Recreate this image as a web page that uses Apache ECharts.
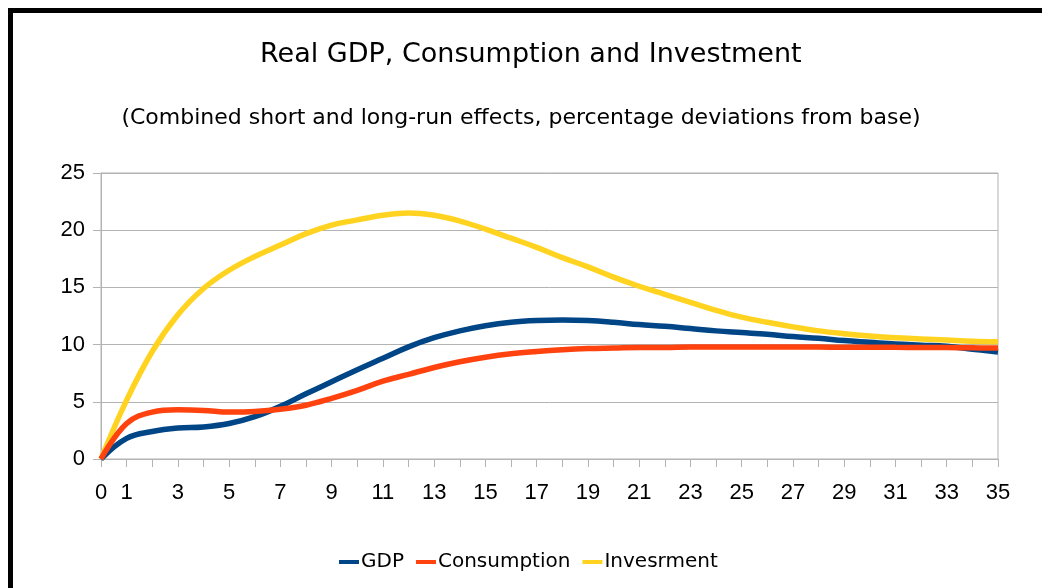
<!DOCTYPE html>
<html>
<head>
<meta charset="utf-8">
<script src="https://cdn.jsdelivr.net/npm/echarts@6/dist/echarts.min.js"></script>
<style>
html,body{margin:0;padding:0;background:#fff;}
#chart{width:1042px;height:588px;}
</style>
</head>
<body>
<div id="chart"></div>
<script>
var periods = [];
for (var i = 0; i <= 35; i++) periods.push(i);
var gdp = [0, 1.8, 2.4, 2.7, 2.8, 3.1, 3.7, 4.6, 5.7, 6.75, 7.8, 8.8, 9.8, 10.6, 11.2, 11.65, 11.95, 12.1, 12.15, 12.1, 11.95, 11.75, 11.6, 11.4, 11.2, 11.05, 10.9, 10.7, 10.55, 10.35, 10.2, 10.05, 9.95, 9.85, 9.6, 9.35];
var consumption = [0, 3.1, 4.1, 4.3, 4.25, 4.1, 4.15, 4.35, 4.7, 5.3, 6.0, 6.8, 7.4, 8.0, 8.5, 8.9, 9.2, 9.4, 9.55, 9.65, 9.7, 9.75, 9.75, 9.78, 9.78, 9.78, 9.78, 9.78, 9.78, 9.77, 9.77, 9.76, 9.75, 9.74, 9.72, 9.7];
var investment = [0, 5.15, 9.4, 12.6, 14.9, 16.5, 17.7, 18.7, 19.7, 20.45, 20.9, 21.3, 21.5, 21.3, 20.8, 20.1, 19.3, 18.5, 17.6, 16.8, 15.9, 15.1, 14.4, 13.7, 13.0, 12.4, 11.95, 11.55, 11.2, 10.95, 10.75, 10.6, 10.5, 10.4, 10.3, 10.25];
var yTicks = [0, 5, 10, 15, 20, 25];
var seriesNames = ['GDP', 'Consumption', 'Invesrment'];
var colors = ['#004586', '#ff420e', '#ffd320'];

function pairs(arr) { return arr.map(function (v, i) { return [periods[i], v]; }); }

var font = '"Liberation Sans", Arial, sans-serif';
var wide = '"DejaVu Sans", sans-serif';
var chart = echarts.init(document.getElementById('chart'), null, {renderer: 'canvas'});
chart.setOption({
  animation: false,
  backgroundColor: '#ffffff',
  title: [
    {text: 'Real GDP, Consumption and Investment', left: 255, top: 36,
     textStyle: {fontFamily: wide, fontSize: 27, fontWeight: 'normal', color: '#000'}},
    {text: '(Combined short and long-run effects, percentage deviations from base)', left: 'center', top: 102,
     textStyle: {fontFamily: wide, fontSize: 22, fontWeight: 'normal', color: '#000'}}
  ],
  graphic: [
    {type: 'rect', shape: {x: 8, y: 8, width: 1034, height: 5}, style: {fill: '#000'}},
    {type: 'rect', shape: {x: 8, y: 8, width: 5, height: 580}, style: {fill: '#000'}}
  ],
  legend: {
    bottom: 11, left: 334,
    data: seriesNames,
    icon: 'rect', itemWidth: 20, itemHeight: 4, itemGap: 12,
    textStyle: {fontFamily: wide, fontSize: 20, color: '#000', padding: [0, 0, 0, -3]}
  },
  grid: {left: 101, right: 44, top: 173, bottom: 129, show: true, borderColor: '#b3b3b3', borderWidth: 1},
  xAxis: [{
    type: 'value', min: 0, max: 35, interval: 1,
    axisLine: {show: true, lineStyle: {color: '#b3b3b3', width: 1}},
    axisTick: {show: true, length: 8, lineStyle: {color: '#b3b3b3'}},
    splitLine: {show: false},
    axisLabel: {
      fontFamily: font, fontSize: 22, color: '#000', margin: 23,
      formatter: function (v) { return (v === 0 || v % 2 === 1) ? String(v) : ''; }
    }
  }],
  yAxis: {
    type: 'value', min: 0, max: 25, interval: 5,
    axisLine: {show: true, lineStyle: {color: '#b3b3b3'}},
    axisTick: {show: true, length: 8, lineStyle: {color: '#b3b3b3'}},
    splitLine: {show: true, lineStyle: {color: '#b3b3b3', width: 1}},
    axisLabel: {fontFamily: font, fontSize: 22, color: '#000', margin: 16,
      formatter: function (v) { return yTicks.indexOf(v) >= 0 ? String(v) : ''; }}
  },
  series: [
    {name: seriesNames[0], type: 'line', data: pairs(gdp), smooth: 0.4, showSymbol: false,
     lineStyle: {width: 5.5, color: colors[0]}, itemStyle: {color: colors[0]}, z: 3},
    {name: seriesNames[1], type: 'line', data: pairs(consumption), smooth: 0.4, showSymbol: false,
     lineStyle: {width: 5.5, color: colors[1]}, itemStyle: {color: colors[1]}, z: 4},
    {name: seriesNames[2], type: 'line', data: pairs(investment), smooth: 0.4, showSymbol: false,
     lineStyle: {width: 5.5, color: colors[2]}, itemStyle: {color: colors[2]}, z: 2}
  ]
});
</script>
</body>
</html>
